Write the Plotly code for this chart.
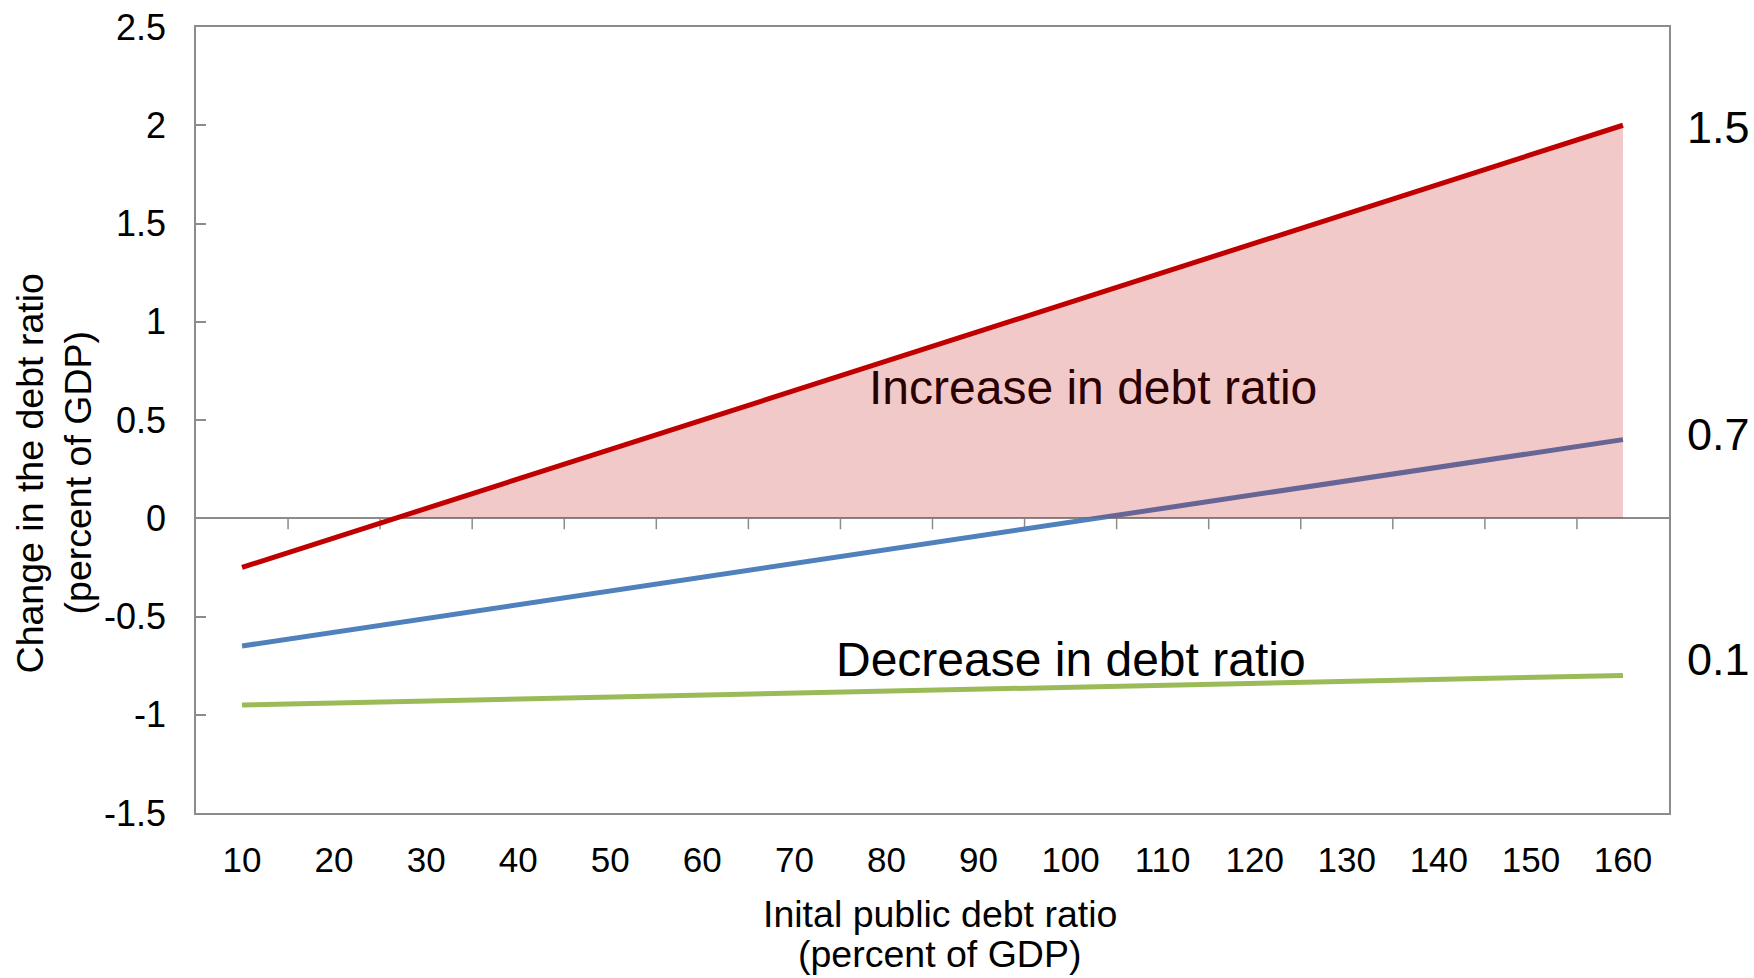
import plotly.graph_objects as go

# Initial public debt ratio (percent of GDP)
debt_ratio = [10, 20, 30, 40, 50, 60, 70, 80, 90, 100, 110, 120, 130, 140, 150, 160]

# Change in the debt ratio for three parameter values
high_case = [-0.25, -0.10, 0.05, 0.20, 0.35, 0.50, 0.65, 0.80, 0.95, 1.10, 1.25, 1.40, 1.55, 1.70, 1.85, 2.00]
mid_case = [-0.65, -0.58, -0.51, -0.44, -0.37, -0.30, -0.23, -0.16, -0.09, -0.02, 0.05, 0.12, 0.19, 0.26, 0.33, 0.40]
low_case = [-0.95, -0.94, -0.93, -0.92, -0.91, -0.90, -0.89, -0.88, -0.87, -0.86, -0.85, -0.84, -0.83, -0.82, -0.81, -0.80]
case_labels = ["1.5", "0.7", "0.1"]

y_tick_values = [2.5, 2.0, 1.5, 1.0, 0.5, 0.0, -0.5, -1.0, -1.5]
y_tick_text = ["2.5", "2", "1.5", "1", "0.5", "0", "-0.5", "-1", "-1.5"]
x_tick_text = [str(v) for v in debt_ratio]

RED = "#C00000"
BLUE = "#4F81BD"
GREEN = "#9BBB59"
AXIS = "#8C8C8C"
FONT = "Liberation Sans, Arial, sans-serif"

# Shaded region: area between zero and the high case where it is positive,
# starting at the interpolated zero crossing
fill_x, fill_y = [], []
for i in range(1, len(debt_ratio)):
    a, b = high_case[i - 1], high_case[i]
    if a < 0 <= b:
        t = -a / (b - a)
        fill_x.append(debt_ratio[i - 1] + t * (debt_ratio[i] - debt_ratio[i - 1]))
        fill_y.append(0.0)
for x, y in zip(debt_ratio, high_case):
    if y >= 0:
        fill_x.append(x)
        fill_y.append(y)

fig = go.Figure()
fig.add_trace(go.Scatter(x=debt_ratio, y=mid_case, mode="lines",
                         line=dict(color=BLUE, width=5), hoverinfo="skip"))
fig.add_trace(go.Scatter(x=debt_ratio, y=low_case, mode="lines",
                         line=dict(color=GREEN, width=5), hoverinfo="skip"))
fig.add_trace(go.Scatter(x=fill_x, y=fill_y, mode="lines", fill="tozeroy",
                         fillcolor="rgba(192,0,0,0.21)", line=dict(width=0),
                         hoverinfo="skip"))
fig.add_trace(go.Scatter(x=debt_ratio, y=high_case, mode="lines",
                         line=dict(color=RED, width=5), hoverinfo="skip"))

# Tick marks on the zero line, between the categories
step = debt_ratio[1] - debt_ratio[0]
separators = [v + step / 2 for v in debt_ratio[:-1]]
for sx in separators:
    fig.add_shape(type="line", xref="x", yref="y", x0=sx, x1=sx,
                  ysizemode="pixel", yanchor=0, y0=0, y1=-11,
                  line=dict(color=AXIS, width=1.5), layer="below")

x_lo = debt_ratio[0] - step / 2
x_hi = debt_ratio[-1] + step / 2

fig.update_layout(
    width=1754, height=978,
    margin=dict(l=196, r=85, t=27, b=165),
    paper_bgcolor="white", plot_bgcolor="white",
    showlegend=False,
    font=dict(family=FONT, color="black"),
    xaxis=dict(range=[x_lo, x_hi], tickvals=debt_ratio, ticktext=x_tick_text,
               ticks="", showgrid=False, zeroline=False, automargin=False,
               showline=True, mirror=True, linecolor=AXIS, linewidth=1.5,
               tickfont=dict(size=35, family=FONT, color="black"),
               ticklabelstandoff=15),
    yaxis=dict(range=[-1.5, 2.5], tickvals=y_tick_values, ticktext=y_tick_text,
               ticks="inside", ticklen=10, tickwidth=1.5, tickcolor=AXIS,
               showgrid=False, zeroline=True, zerolinecolor=AXIS, zerolinewidth=1.5,
               showline=True, mirror=True, linecolor=AXIS, linewidth=1.5,
               automargin=False,
               tickfont=dict(size=36, family=FONT, color="black"),
               ticklabelstandoff=21),
)

ann = []
# region labels
ann.append(dict(x=102.4, y=0.665, xref="x", yref="y", text="Increase in debt ratio",
                showarrow=False, xanchor="center", yanchor="middle",
                font=dict(size=48, family=FONT, color="#2b0000")))
ann.append(dict(x=100.0, y=-0.72, xref="x", yref="y", text="Decrease in debt ratio",
                showarrow=False, xanchor="center", yanchor="middle",
                font=dict(size=48, family=FONT, color="black")))
# series labels on the right
for lab, yv in zip(case_labels, [1.99, 0.425, -0.72]):
    ann.append(dict(x=1.011, y=yv, xref="paper", yref="y", text=lab,
                    showarrow=False, xanchor="left", yanchor="middle",
                    font=dict(size=45, family=FONT, color="black")))
# axis titles
ann.append(dict(x=0.505, y=-0.129, xref="paper", yref="paper",
                text="Inital public debt ratio", showarrow=False,
                xanchor="center", yanchor="middle",
                font=dict(size=37.5, family=FONT, color="black")))
ann.append(dict(x=0.505, y=-0.180, xref="paper", yref="paper",
                text="(percent of GDP)", showarrow=False,
                xanchor="center", yanchor="middle",
                font=dict(size=37.5, family=FONT, color="black")))
ann.append(dict(x=-0.1127, y=0.432, xref="paper", yref="paper",
                text="Change in the debt ratio", showarrow=False, textangle=-90,
                xanchor="center", yanchor="middle",
                font=dict(size=37.5, family=FONT, color="black")))
ann.append(dict(x=-0.0801, y=0.432, xref="paper", yref="paper",
                text="(percent of GDP)", showarrow=False, textangle=-90,
                xanchor="center", yanchor="middle",
                font=dict(size=37.5, family=FONT, color="black")))
fig.update_layout(annotations=ann)

fig.write_html("out.html")
